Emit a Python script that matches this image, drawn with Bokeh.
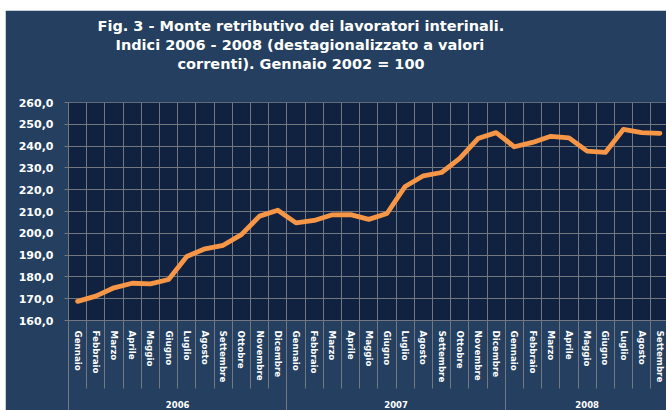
from bokeh.plotting import figure
from bokeh.models import Range1d, FixedTicker, LinearAxis, Title, Grid
from bokeh.embed import file_html
from bokeh.resources import INLINE

# ---- data ----
month_names = ["Gennaio", "Febbraio", "Marzo", "Aprile", "Maggio", "Giugno",
               "Luglio", "Agosto", "Settembre", "Ottobre", "Novembre", "Dicembre"]
years = ["2006", "2007", "2008"]
months_per_year = [12, 12, 9]
values = [168.8, 171.2, 175.0, 177.1, 176.8, 178.8, 189.4, 192.9, 194.5, 199.4, 207.9, 210.6,
          204.8, 205.9, 208.5, 208.6, 206.4, 209.1, 221.5, 226.4, 227.9, 234.4, 243.5, 246.2,
          239.7, 241.7, 244.5, 243.8, 237.7, 237.1, 247.7, 246.2, 245.9]
y_ticks = [160, 170, 180, 190, 200, 210, 220, 230, 240, 250, 260]
y_tick_labels = ["160,0", "170,0", "180,0", "190,0", "200,0", "210,0",
                 "220,0", "230,0", "240,0", "250,0", "260,0"]
title_lines = ["Fig. 3 - Monte retributivo dei lavoratori interinali.",
               "Indici 2006 - 2008 (destagionalizzato a valori",
               "correnti). Gennaio 2002 = 100"]
title_offsets = [29, 47, 109]

# ---- derived positions ----
labels = []
for n in months_per_year:
    labels += month_names[:n]
n_pts = len(labels)
xpos = [i + 0.5 for i in range(n_pts)]
bounds = list(range(n_pts + 1))
year_starts = []
acc = 0
for n in months_per_year:
    year_starts.append(acc)
    acc += n
year_centers = [s + n / 2 for s, n in zip(year_starts, months_per_year)]

OUTER = "#243F5F"
INNER = "#10223F"
GRID = "#737880"
ORANGE = "#F79646"
FONT = "DejaVu Sans"

p = figure(width=661, height=400, output_backend="svg", toolbar_location=None,
           x_range=Range1d(0, 32.86), y_range=Range1d(160, 260.02),
           x_axis_type=None, y_axis_type=None, margin=(10, 0, 0, 5),
           min_border_left=63, min_border_right=0, min_border_top=92, min_border_bottom=88)
p.background_fill_color = INNER
p.border_fill_color = OUTER
p.outline_line_color = None

p.add_layout(Grid(dimension=0, ticker=FixedTicker(ticks=bounds),
                  grid_line_color=GRID, grid_line_width=1))
p.add_layout(Grid(dimension=1, ticker=FixedTicker(ticks=y_ticks),
                  grid_line_color=GRID, grid_line_width=1))

yaxis = LinearAxis(ticker=FixedTicker(ticks=y_ticks),
                   major_label_overrides=dict(zip(y_ticks, y_tick_labels)))
yaxis.axis_line_color = GRID
yaxis.major_tick_line_color = GRID
yaxis.major_tick_out = 4
yaxis.major_tick_in = 0
yaxis.minor_tick_line_color = None
yaxis.major_label_standoff = 11
yaxis.major_label_text_color = "white"
yaxis.major_label_text_font = FONT
yaxis.major_label_text_font_style = "bold"
yaxis.major_label_text_font_size = "11px"
p.add_layout(yaxis, "left")

maxis = LinearAxis(ticker=FixedTicker(ticks=xpos, minor_ticks=bounds),
                   major_label_overrides=dict(zip(xpos, labels)))
maxis.major_label_orientation = "vertical"
maxis.axis_line_color = GRID
maxis.major_tick_out = 0
maxis.major_tick_in = 0
maxis.major_tick_line_color = None
maxis.minor_tick_out = 0
maxis.minor_tick_in = -68
maxis.minor_tick_line_color = GRID
maxis.major_label_standoff = 10
maxis.major_label_text_color = "white"
maxis.major_label_text_font = FONT
maxis.major_label_text_font_style = "bold"
maxis.major_label_text_font_size = "8.7px"
p.add_layout(maxis, "below")

yr_axis = LinearAxis(ticker=FixedTicker(ticks=year_centers, minor_ticks=year_starts),
                     major_label_overrides=dict(zip(year_centers, years)))
yr_axis.axis_line_color = None
yr_axis.major_tick_out = 0
yr_axis.major_tick_in = 0
yr_axis.major_tick_line_color = None
yr_axis.minor_tick_out = 0
yr_axis.minor_tick_in = -30
yr_axis.minor_tick_line_color = GRID
yr_axis.major_label_standoff = 15
yr_axis.major_label_text_color = "white"
yr_axis.major_label_text_font = FONT
yr_axis.major_label_text_font_style = "bold"
yr_axis.major_label_text_font_size = "8.5px"
p.add_layout(yr_axis, "below")

p.line(xpos, values, line_color=ORANGE, line_width=4.8, line_join="round", line_cap="round")

# spacer between the title block and the plot area
p.add_layout(Title(text=" ", standoff=12, text_font_size="14.5px",
                   text_font=FONT), "above")
# title lines: nearest to the frame added first
for line, off in reversed(list(zip(title_lines, title_offsets))):
    p.add_layout(Title(text=line, align="left", offset=off, standoff=1,
                       text_color="white", text_font=FONT, text_font_style="bold",
                       text_font_size="14.5px"), "above")

open("out.html", "w").write(file_html(p, INLINE))
